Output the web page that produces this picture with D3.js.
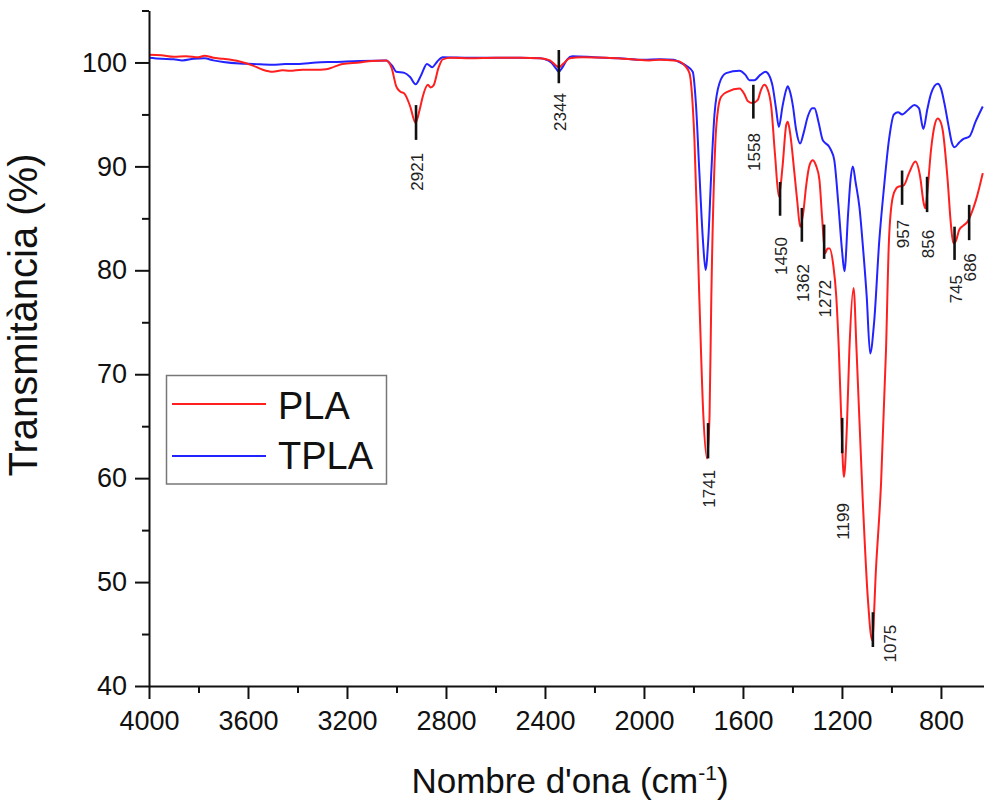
<!DOCTYPE html>
<html>
<head>
<meta charset="utf-8">
<script src="https://cdn.jsdelivr.net/npm/d3@7"></script>
<style>
  body { margin: 0; background: #fff; }
  svg { font-family: "Liberation Sans", Arial, sans-serif; }
</style>
</head>
<body>
<svg id="chart" width="984" height="800"></svg>
<script>
// PLA spectrum (wavenumber cm-1, transmittance %)
let plaWn = [4000, 3950, 3900, 3850, 3800, 3776, 3740, 3700, 3634, 3580, 3540, 3500, 3460, 3432, 3380, 3330, 3284, 3250, 3218, 3150, 3100, 3042, 3020, 3001, 2985, 2968, 2945, 2923, 2905, 2894, 2873, 2862, 2850, 2830, 2813, 2780, 2700, 2600, 2500, 2420, 2380, 2360, 2344, 2325, 2300, 2250, 2150, 2050, 1978, 1937, 1880, 1857, 1835, 1816, 1796, 1776, 1760, 1745, 1735, 1728, 1711, 1700, 1688, 1661, 1614, 1595, 1581, 1561, 1540, 1528, 1514, 1500, 1486, 1470, 1455, 1440, 1425, 1419, 1410, 1392, 1380, 1369, 1355, 1345, 1330, 1318, 1305, 1291, 1280, 1268, 1258, 1250, 1235, 1223, 1212, 1203, 1192, 1180, 1170, 1153, 1141, 1116, 1095, 1078, 1062, 1042, 1022, 1010, 995, 980, 970, 957, 949, 929, 903, 884, 870, 863, 855, 840, 825, 813, 800, 793, 773, 760, 750, 740, 726, 710, 692, 675, 658, 631];
let plaT = [100.75, 100.7, 100.55, 100.6, 100.5, 100.65, 100.45, 100.35, 100.1, 99.7, 99.3, 99.1, 99.25, 99.2, 99.3, 99.3, 99.35, 99.6, 99.85, 100.0, 100.15, 100.2, 99.5, 97.7, 97.2, 97.0, 95.8, 94.2, 95.6, 96.7, 97.85, 97.6, 97.8, 99.5, 100.3, 100.45, 100.4, 100.45, 100.45, 100.4, 100.2, 99.8, 99.55, 99.9, 100.4, 100.5, 100.45, 100.3, 100.2, 100.25, 100.2, 100.1, 99.7, 98.97, 92.55, 77.15, 66, 61.9, 66, 77.15, 92.55, 95.6, 96.7, 97.2, 97.5, 97.0, 96.3, 96.1, 96.4, 97.3, 97.85, 97.4, 95.8, 91, 87.1, 90, 94.0, 94.3, 93.3, 89.35, 86.5, 84.2, 85.8, 88.06, 90.2, 90.6, 90.1, 88.7, 85, 81.65, 82.1, 82.1, 80.5, 77.5, 72, 65.9, 60.1, 65, 72.3, 78.3, 72.3, 57.9, 48.3, 44.4, 51.5, 59.5, 72.3, 82.9, 87.0, 87.9, 88.06, 88.1, 88.2, 89.35, 90.46, 89.0, 86.5, 85.97, 87.5, 91.6, 94.0, 94.6, 94.2, 93.5, 88.7, 84.5, 82.6, 82.8, 83.9, 84.3, 84.7, 85.6, 86.8, 89.35];

// TPLA spectrum
let tplaWn = [4000, 3950, 3900, 3865, 3820, 3776, 3740, 3700, 3634, 3580, 3500, 3450, 3400, 3324, 3250, 3150, 3042, 3015, 3001, 2968, 2945, 2923, 2900, 2877, 2856, 2835, 2813, 2700, 2600, 2500, 2420, 2375, 2355, 2344, 2330, 2310, 2289, 2200, 2100, 2000, 1937, 1880, 1857, 1830, 1803, 1790, 1776, 1762, 1751, 1740, 1728, 1715, 1695, 1668, 1614, 1590, 1574, 1554, 1530, 1509, 1495, 1480, 1466, 1455, 1440, 1425, 1419, 1410, 1398, 1385, 1369, 1355, 1338, 1320, 1311, 1295, 1278, 1265, 1254, 1245, 1231, 1215, 1200, 1190, 1175, 1165, 1156, 1145, 1129, 1116, 1100, 1086, 1070, 1049, 1030, 1010, 990, 973, 957, 930, 907, 889, 871, 855, 840, 813, 800, 786, 770, 755, 745, 726, 712, 685, 660, 631];
let tplaT = [100.45, 100.35, 100.3, 100.2, 100.35, 100.4, 100.2, 100.05, 99.9, 99.85, 99.77, 99.85, 99.85, 100.0, 100.05, 100.15, 100.2, 99.6, 99.1, 99.0, 98.6, 97.9, 98.8, 99.86, 99.54, 100.1, 100.5, 100.45, 100.45, 100.45, 100.4, 100.0, 99.4, 99.1, 99.5, 100.3, 100.6, 100.5, 100.4, 100.25, 100.3, 100.25, 100.03, 99.7, 99.1, 96, 89.35, 83, 80.04, 83, 89.35, 95, 98.0, 98.97, 99.2, 98.8, 98.3, 98.3, 98.8, 99.1, 98.8, 97.7, 95.5, 93.8, 95.8, 97.4, 97.7, 97.2, 95.8, 93.5, 92.2, 93.2, 94.8, 95.6, 95.6, 94.3, 92.55, 92.2, 91.97, 91.6, 90.6, 86.5, 82, 79.9, 85.5, 88.8, 90.0, 88.5, 86.0, 82.5, 77.5, 72.0, 75, 82.9, 88, 92.55, 95.0, 95.2, 95.0, 95.5, 95.9, 95.6, 93.6, 95.5, 97.0, 97.94, 97.5, 96.07, 94, 92.2, 91.84, 92.3, 92.6, 92.87, 94.3, 95.76];

// peak annotations (marker span and label top in % units)
let peakWn = [2921, 2344, 1741, 1558, 1450, 1362, 1272, 1199, 1075, 957, 856, 745, 686];
let peakTop = [95.9, 101.2, 65.3, 97.85, 88.5, 86.0, 84.4, 65.8, 47.1, 89.6, 89.0, 84.2, 86.3];
let peakBottom = [92.55, 98.0, 61.9, 94.6, 85.25, 82.75, 81.1, 62.4, 43.75, 86.3, 85.6, 81.0, 82.9];
let peakLabelTop = [91.3, 97.05, 60.8, 93.2, 83.2, 80.6, 79.1, 57.6, 45.9, 84.85, 83.9, 79.55, 81.65];
let peakLabelSide = [0, 0, 0, 0, 0, 0, 0, 0, 1, 0, 0, 0, 0];

let xTicks = [4000, 3600, 3200, 2800, 2400, 2000, 1600, 1200, 800];
let xMinor = [3800, 3400, 3000, 2600, 2200, 1800, 1400, 1000];
let yTicks = [40, 50, 60, 70, 80, 90, 100];
let yMinor = [45, 55, 65, 75, 85, 95, 105];

let seriesNames = ["PLA", "TPLA"];
let seriesColors = ["#ff1f1f", "#2323ff"];

let svg = d3.select("#chart");
let plotLeft = 149, plotRight = 984, plotTop = 10.5, plotBottom = 686;

let x = d3.scaleLinear().domain([4000, 626]).range([plotLeft, plotRight]);
let y = d3.scaleLinear().domain([40, 105]).range([plotBottom, plotTop]);

svg.append("defs").append("clipPath").attr("id", "plot")
	.append("rect")
	.attr("x", plotLeft).attr("y", plotTop)
	.attr("width", plotRight - plotLeft).attr("height", plotBottom - plotTop);

let line = d3.line()
	.x(function(d) { return x(d[0]); })
	.y(function(d) { return y(d[1]); })
	.curve(d3.curveMonotoneX);

let series = [d3.zip(plaWn, plaT), d3.zip(tplaWn, tplaT)];

// TPLA drawn first, PLA on top
svg.append("g").attr("clip-path", "url(#plot)")
	.selectAll("path")
	.data([1, 0])
	.enter().append("path")
	.attr("d", function(i) { return line(series[i]); })
	.attr("fill", "none")
	.attr("stroke", function(i) { return seriesColors[i]; })
	.attr("stroke-width", 2)
	.attr("stroke-linejoin", "round");

// peak markers
let peaks = svg.append("g");
peaks.selectAll("line")
	.data(peakWn)
	.enter().append("line")
	.attr("x1", function(d) { return x(d); })
	.attr("x2", function(d) { return x(d); })
	.attr("y1", function(d, i) { return y(peakTop[i]); })
	.attr("y2", function(d, i) { return y(peakBottom[i]); })
	.attr("stroke", "#111")
	.attr("stroke-width", 2.6);

peaks.selectAll("text")
	.data(peakWn)
	.enter().append("text")
	.attr("transform", function(d, i) {
		let dx = peakLabelSide[i] ? 23 : 7;
		return "translate(" + (x(d) + dx) + "," + y(peakLabelTop[i]) + ") rotate(-90)";
	})
	.style("text-anchor", "end")
	.style("font-size", "17px")
	.attr("fill", "#222")
	.text(function(d) { return d; });

// Axes
let xAxis = svg.append("g")
	.attr("transform", "translate(0," + plotBottom + ")")
	.style("font-size", "27px")
	.call(d3.axisBottom(x).tickValues(xTicks).tickFormat(d3.format("d"))
		.tickSize(13).tickSizeOuter(0).tickPadding(12));
let xMinorAxis = svg.append("g")
	.attr("transform", "translate(0," + plotBottom + ")")
	.call(d3.axisBottom(x).tickValues(xMinor).tickSize(7).tickSizeOuter(0).tickFormat(""));

let yAxis = svg.append("g")
	.attr("transform", "translate(" + plotLeft + ",0)")
	.style("font-size", "27px")
	.call(d3.axisLeft(y).tickValues(yTicks).tickFormat(d3.format("d"))
		.tickSize(14).tickSizeOuter(0).tickPadding(8));
let yMinorAxis = svg.append("g")
	.attr("transform", "translate(" + plotLeft + ",0)")
	.call(d3.axisLeft(y).tickValues(yMinor).tickSize(7).tickSizeOuter(0).tickFormat(""));

svg.selectAll(".domain, .tick line")
	.attr("stroke", "#111")
	.attr("stroke-width", 2);
svg.selectAll(".tick text")
	.attr("fill", "#111")
	.style("font-family", "'Liberation Sans', Arial, sans-serif");
xMinorAxis.select(".domain").remove();
yMinorAxis.select(".domain").remove();

// axis titles
let xTitle = svg.append("text")
	.attr("x", 570)
	.attr("y", 793)
	.style("text-anchor", "middle")
	.style("font-size", "35px")
	.attr("fill", "#111");
xTitle.append("tspan").text("Nombre d'ona (cm");
xTitle.append("tspan").attr("dy", -13).style("font-size", "21px").text("-1");
xTitle.append("tspan").attr("dy", 13).text(")");

svg.append("text")
	.attr("transform", "translate(37,315) rotate(-90)")
	.style("text-anchor", "middle")
	.style("font-size", "40px")
	.attr("fill", "#111")
	.text("Transmitància (%)");

// legend
let legend = svg.append("g");
legend.append("rect")
	.attr("x", 166.5).attr("y", 375.5)
	.attr("width", 220).attr("height", 108.5)
	.attr("fill", "white")
	.attr("stroke", "#777")
	.attr("stroke-width", 1.5);

legend.selectAll("line")
	.data(seriesNames)
	.enter().append("line")
	.attr("x1", 172).attr("x2", 266)
	.attr("y1", function(d, i) { return 404 + i*52; })
	.attr("y2", function(d, i) { return 404 + i*52; })
	.attr("stroke", function(d, i) { return seriesColors[i]; })
	.attr("stroke-width", 2);

legend.selectAll("text")
	.data(seriesNames)
	.enter().append("text")
	.attr("x", 278)
	.attr("y", function(d, i) { return 419 + i*50; })
	.style("font-size", "38px")
	.attr("fill", "#111")
	.text(function(d) { return d; });
</script>
</body>
</html>
